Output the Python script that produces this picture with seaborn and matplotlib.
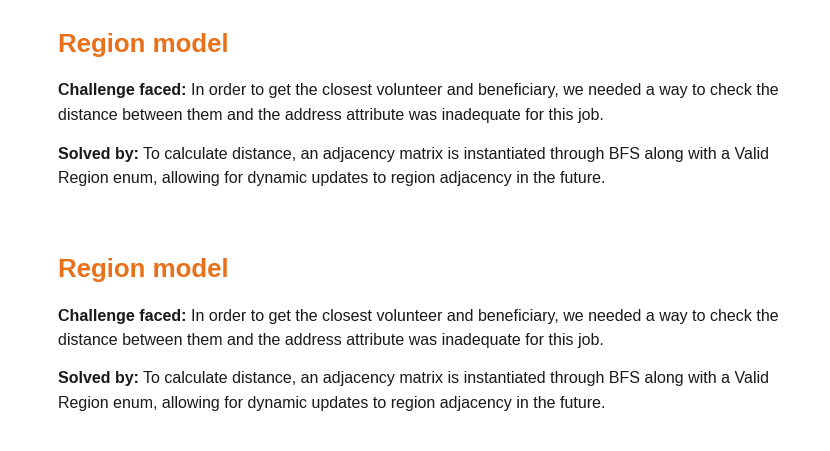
import matplotlib
matplotlib.use("Agg")
import matplotlib.pyplot as plt
import seaborn as sns

sns.set_theme(style="white")
plt.rcParams['font.family'] = ['Liberation Sans', 'DejaVu Sans']

headings = ["Region model", "Region model"]
labels = ["Challenge faced:", "Solved by:"]
texts = [
    ["In order to get the closest volunteer and beneficiary, we needed a way to check the",
     "distance between them and the address attribute was inadequate for this job."],
    ["To calculate distance, an adjacency matrix is instantiated through BFS along with a Valid",
     "Region enum, allowing for dynamic updates to region adjacency in the future."],
]

W, H = 830, 451
fig = plt.figure(figsize=(W / 100, H / 100), dpi=100)
fig.patch.set_facecolor("white")
r = fig.canvas.get_renderer()

orange = "#E8711A"
body = "#1a1a1a"
x0 = 58
block_y = [45, 270]
para_dy = [46, 109]
line_h = 24.5

for b, top in enumerate(block_y):
    fig.text(x0 / W, 1 - top / H, headings[b], color=orange, fontsize=18.6,
             fontweight="bold", va="center", ha="left")
    for p, (lab, lines) in enumerate(zip(labels, texts)):
        y = top + para_dy[p]
        t = fig.text(x0 / W, 1 - y / H, lab, color=body, fontsize=11.5,
                     fontweight="bold", va="center", ha="left")
        wpx = t.get_window_extent(r).width
        fig.text((x0 + wpx + 4) / W, 1 - y / H, lines[0], color=body,
                 fontsize=11.5, va="center", ha="left")
        for k, ln in enumerate(lines[1:], 1):
            fig.text(x0 / W, 1 - (y + k * line_h) / H, ln, color=body,
                     fontsize=11.5, va="center", ha="left")

fig.savefig("out.png", dpi=100, facecolor="white")
